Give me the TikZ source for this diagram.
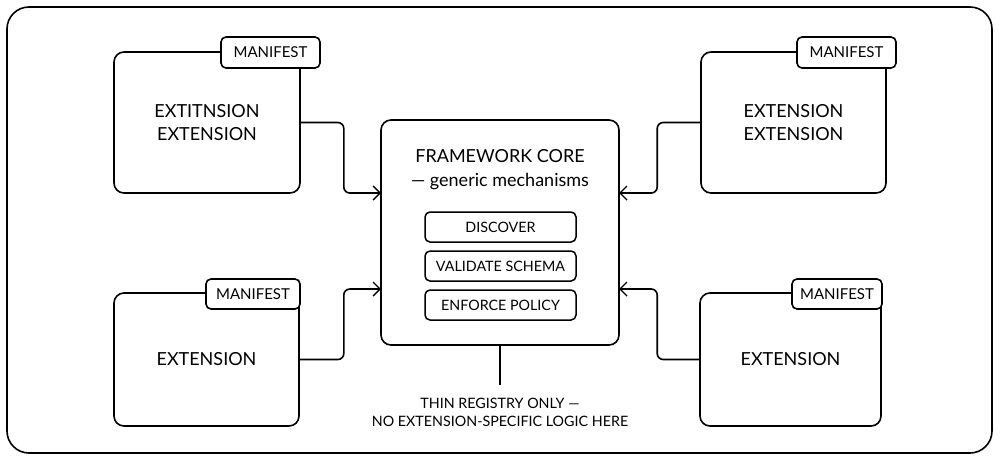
\documentclass[tikz,border=0pt]{standalone}
\usepackage{fontspec}
\setmainfont{Lato}
\usetikzlibrary{arrows.meta}

\tikzset{
  extbox/.style={draw,line width=1.6pt,rounded corners=10pt,align=center,inner sep=0pt,
    font=\fontsize{18}{23}\selectfont},
  tabbox/.style={draw,fill=white,line width=1.6pt,rounded corners=5pt,inner sep=0pt,
    font=\fontsize{15}{17}\selectfont},
  mechbox/.style={draw,line width=1.5pt,rounded corners=5pt,minimum width=151pt,minimum height=30pt,
    inner sep=0pt,font=\fontsize{14.3}{18}\selectfont},
  flow/.style={line width=1.6pt,rounded corners=6pt,-{Straight Barb[length=7pt,width=14pt,line width=1.4pt]}}
}

\begin{document}
\begin{tikzpicture}[x=1pt,y=-1pt]

\useasboundingbox (0,0) rectangle (1000,461);
\draw[line width=1.6pt,rounded corners=22pt] (7,7) rectangle (992,453);

% extensions
\node[extbox,minimum width=186pt,minimum height=141pt] (extA) at (207,122.5) {EXTITNSION\\EXTENSION};
\node[extbox,minimum width=185pt,minimum height=141pt] (extB) at (793.5,122.5) {EXTENSION\\EXTENSION};
\node[extbox,minimum width=185pt,minimum height=133pt] (extC) at (206.5,359.5) {EXTENSION};
\node[extbox,minimum width=181pt,minimum height=133pt] (extD) at (790.5,359.5) {EXTENSION};

% manifest tabs
\node[tabbox,minimum width=99pt,minimum height=31pt] (tabA) at (270.5,52.5) {MANIFEST};
\node[tabbox,minimum width=99pt,minimum height=31pt] (tabB) at (846.5,52.5) {MANIFEST};
\node[tabbox,minimum width=94pt,minimum height=30pt] (tabC) at (253,294) {MANIFEST};
\node[tabbox,minimum width=90pt,minimum height=30pt] (tabD) at (837,294) {MANIFEST};

% core
\node[draw,line width=1.6pt,rounded corners=10pt,minimum width=238pt,minimum height=225pt] (core) at (500,232.5) {};
\node[align=center,font=\fontsize{18}{24}\selectfont] (title) at (500,170) {FRAMEWORK CORE\\— generic mechanisms};
\node[mechbox] (discover) at (500.5,227) {DISCOVER};
\node[mechbox] (validate) at (500.5,266) {VALIDATE SCHEMA};
\node[mechbox] (enforce) at (500.5,305) {ENFORCE POLICY};

\coordinate (inA) at (381,193);
\coordinate (inB) at (619,193);
\coordinate (inC) at (381,289);
\coordinate (inD) at (619,289);

\draw[flow] (extA.east) -- ++(43,0) |- (inA);
\draw[flow] (extB.west) -- ++(-43,0) |- (inB);
\draw[flow] (extC.east) -- ++(44,0) |- (inC);
\draw[flow] (extD.west) -- ++(-42,0) |- (inD);

% registry note
\node[align=center,font=\fontsize{14.3}{18}\selectfont] (note) at (500,412) {THIN REGISTRY ONLY —\\NO EXTENSION-SPECIFIC LOGIC HERE};
\draw[line width=1.6pt] (core.south) -- (500,385);

\end{tikzpicture}
\end{document}
